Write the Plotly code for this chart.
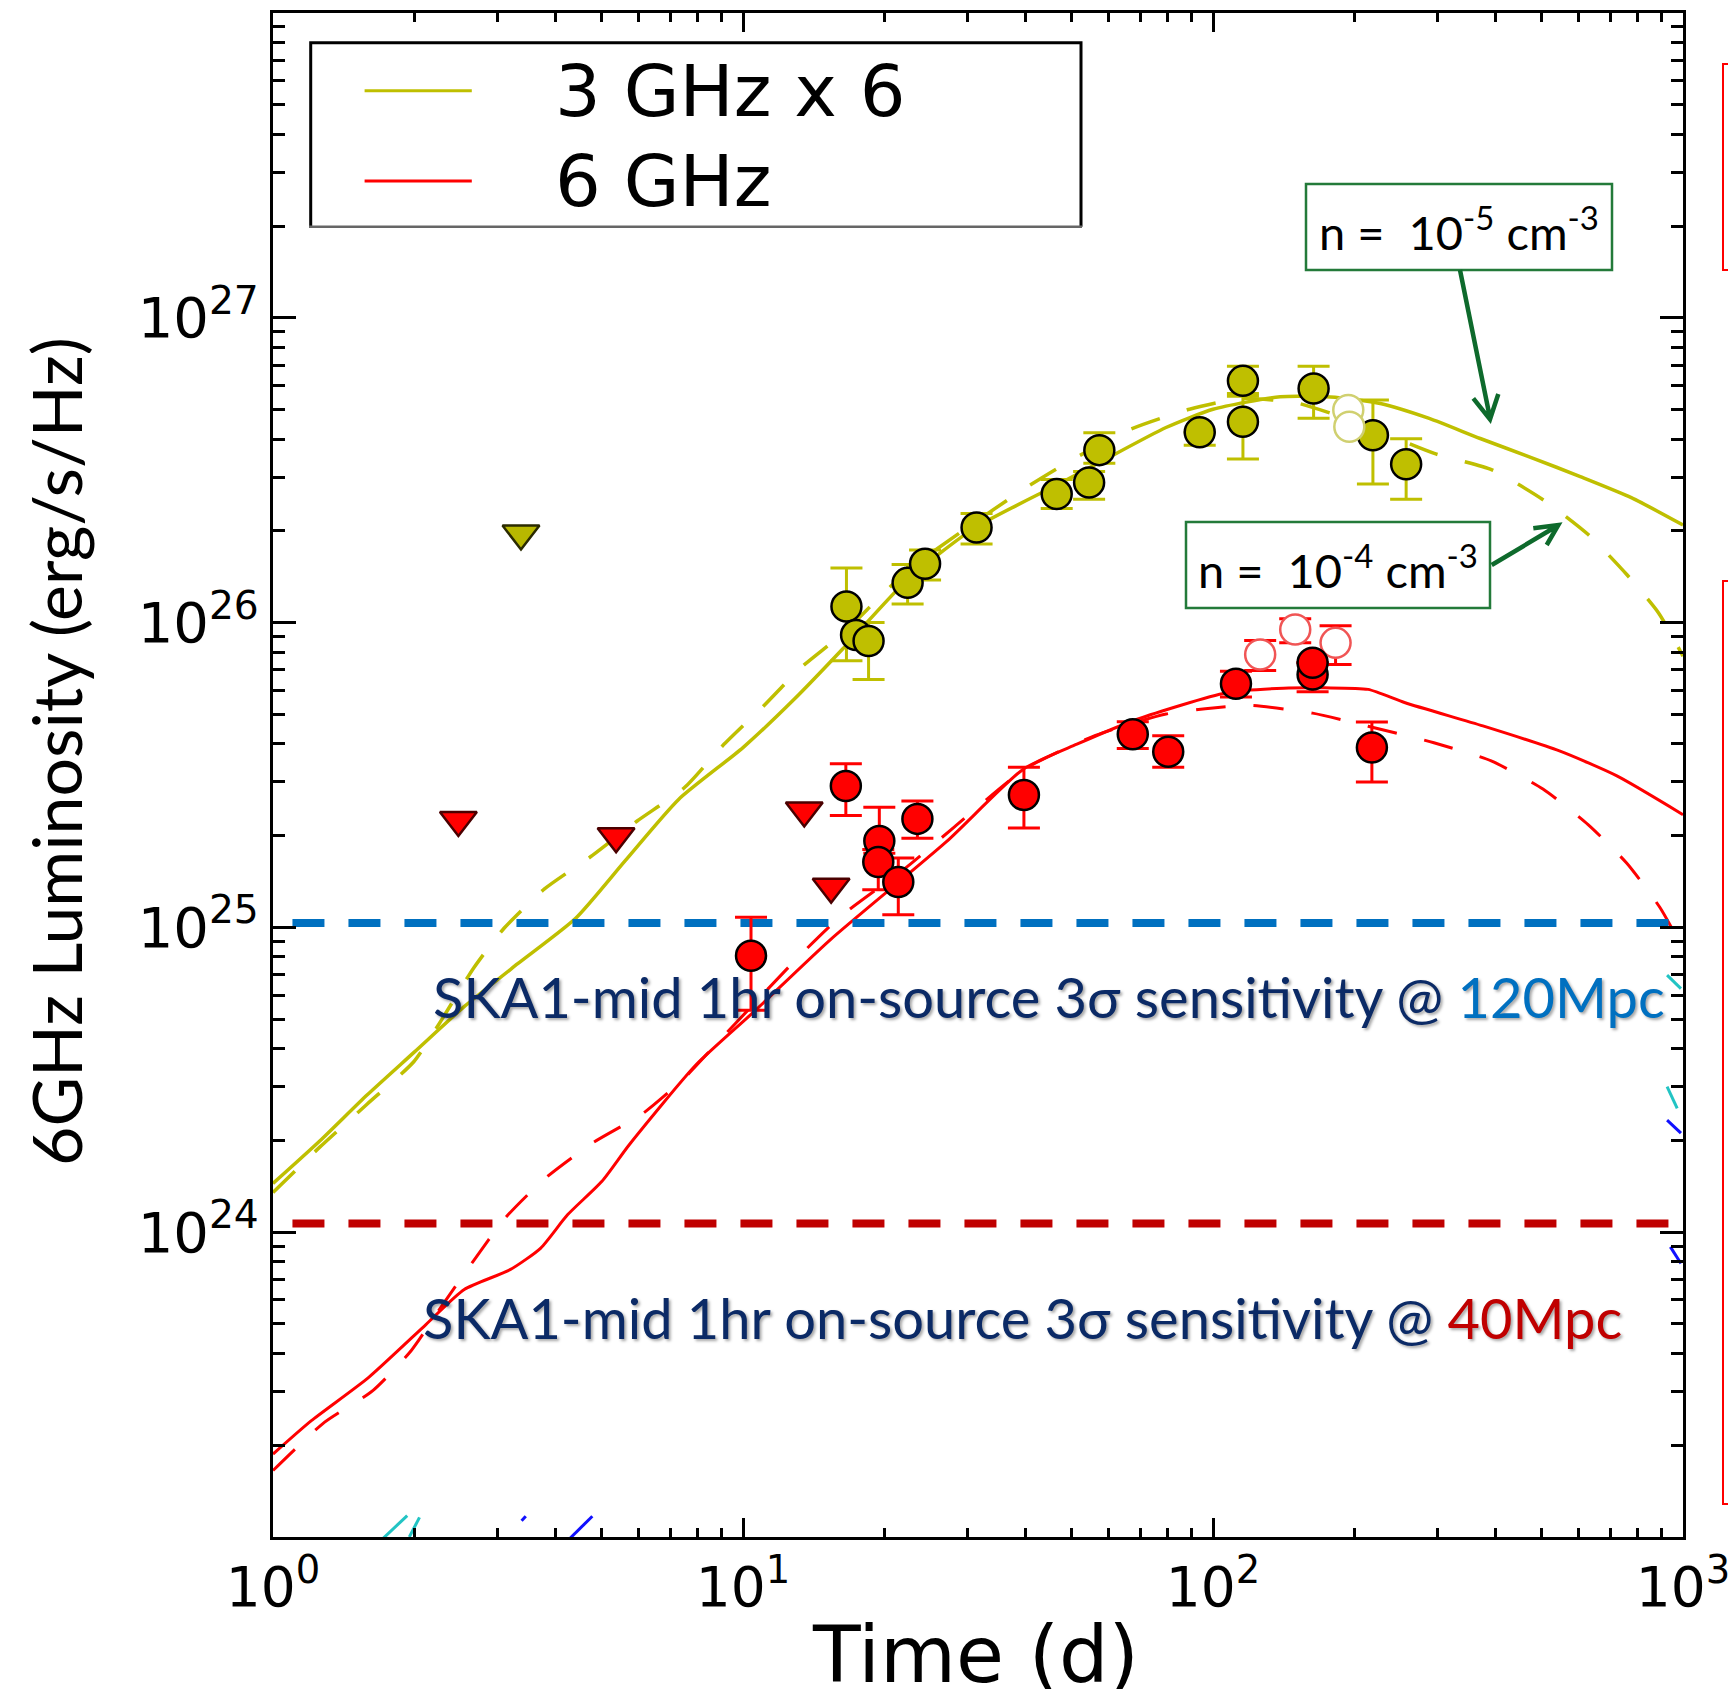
import plotly.graph_objects as go

# ---------------- model light curves ----------------
# 3 GHz (scaled x6), ISM density n = 1e-5 cm^-3 (solid)
t_olive_n5 = [1.0, 1.259, 1.585, 1.995, 2.551, 3.311, 4.406, 5.623, 7.295, 10.0, 12.88, 16.33,
              22.34, 31.05, 46.34, 58.08, 79.43, 100, 139.0, 177.8, 227.0, 288.4, 370.3,
              478.6, 604.5, 776.2, 1000]
L_olive_n5 = [1.445e24, 1.995e24, 2.818e24, 3.89e24, 5.495e24, 7.586e24, 1.072e25, 1.66e25,
              2.63e25, 3.89e25, 5.623e25, 8.222e25, 1.38e26, 2.042e26, 2.818e26, 3.388e26,
              4.365e26, 5.012e26, 5.508e26, 5.495e26, 5.236e26, 4.677e26, 4.018e26, 3.467e26,
              3.013e26, 2.57e26, 2.089e26]

# 3 GHz (scaled x6), n = 1e-4 cm^-3 (dashed)
t_olive_n4 = [1.0, 1.259, 1.585, 1.995, 2.291, 2.673, 3.105, 3.781, 4.782, 5.954, 7.499, 9.051,
              11.02, 13.28, 16.33, 22.39, 39.49, 50.77, 66.73, 89.13, 114.8, 151.4, 199.5,
              295.7, 392.2, 505.1, 629.5, 760.0, 887.2, 1000]
L_olive_n4 = [1.349e24, 1.905e24, 2.63e24, 3.631e24, 5.012e24, 7.362e24, 9.954e24, 1.337e25,
              1.722e25, 2.234e25, 2.871e25, 3.945e25, 5.297e25, 7.112e25, 9.226e25, 1.479e26,
              2.735e26, 3.459e26, 4.305e26, 5.012e26, 5.433e26, 5.248e26, 4.571e26, 3.589e26,
              3.17e26, 2.523e26, 1.941e26, 1.435e26, 1.076e26, 7.762e25]

# 6 GHz, n = 1e-5 cm^-3 (solid)
t_red_n5 = [1.0, 1.205, 1.596, 2.115, 2.552, 3.195, 3.713, 4.233, 5.011, 5.728, 7.954, 10.58,
            15.33, 27.09, 39.54, 51.34, 68.99, 106.8, 141.3, 172.9, 213.8, 256.4, 375.2,
            545.9, 723.3, 1000]
L_red_n5 = [1.871e23, 2.404e23, 3.334e23, 4.977e23, 6.486e23, 7.534e23, 8.872e23, 1.14e24,
            1.469e24, 1.936e24, 3.548e24, 5.309e24, 9.1e24, 1.91e25, 3.311e25, 3.99e25,
            4.819e25, 5.888e25, 6.095e25, 6.109e25, 6.039e25, 5.458e25, 4.581e25, 3.793e25,
            3.141e25, 2.344e25]

# 6 GHz, n = 1e-4 cm^-3 (dashed)
t_red_n4 = [1.0, 1.286, 1.633, 1.969, 2.291, 2.659, 3.117, 3.781, 4.777, 6.116, 7.482, 9.073,
            13.22, 16.18, 22.39, 28.18, 39.81, 56.23, 79.43, 100, 120.6, 162.9, 213.8, 295.1,
            390.8, 503.5, 628.1, 758.6, 892.5, 1000]
L_red_n4 = [1.652e23, 2.377e23, 3.027e23, 4.093e23, 5.754e23, 7.98e23, 1.112e24, 1.496e24,
            1.959e24, 2.449e24, 3.192e24, 4.385e24, 8.091e24, 1.091e25, 1.585e25, 2.138e25,
            3.311e25, 4.266e25, 5.012e25, 5.248e25, 5.346e25, 5.047e25, 4.571e25, 4.036e25,
            3.516e25, 2.844e25, 2.173e25, 1.626e25, 1.164e25, 8.511e24]

# ---------------- observations ----------------
# 3 GHz x 6 detections: time, luminosity, lower / upper error bound
t_olive_obs = [16.6, 17.4, 18.5, 22.4, 24.4, 31.4, 46.5, 54.5, 57.3, 93.7, 115.8, 115.8,
               163.7, 218.9, 257.6]
L_olive_obs = [1.13e26, 9.1e25, 8.7e25, 1.35e26, 1.56e26, 2.05e26, 2.64e26, 2.88e26, 3.68e26,
               4.21e26, 6.21e26, 4.56e26, 5.86e26, 4.12e26, 3.31e26]
lo_olive_obs = [7.5e25, 9.1e25, 6.5e25, 1.15e26, 1.38e26, 1.81e26, 2.37e26, 2.54e26, 3.33e26,
                3.82e26, 5.65e26, 3.44e26, 4.68e26, 2.85e26, 2.54e26]
hi_olive_obs = [1.51e26, 9.1e25, 1.0e26, 1.55e26, 1.73e26, 2.28e26, 2.95e26, 3.13e26, 4.2e26,
                4.21e26, 6.93e26, 5.53e26, 6.93e26, 5.37e26, 4.01e26]
t_olive_open = [194, 195]
L_olive_open = [4.98e26, 4.39e26]
t_olive_lim = [3.37]
L_olive_lim = [1.96e26]

# 6 GHz detections
t_red_obs = [10.4, 16.55, 19.5, 19.4, 21.4, 23.5, 39.6, 67.5, 80.3, 111.9, 162.9, 162.9, 217.8]
L_red_obs = [8.07e24, 2.91e25, 1.92e25, 1.64e25, 1.41e25, 2.27e25, 2.72e25, 4.3e25, 3.77e25,
             6.3e25, 6.76e25, 7.38e25, 3.89e25]
lo_red_obs = [5.35e24, 2.33e25, 1.75e25, 1.33e25, 1.10e25, 1.96e25, 2.12e25, 3.86e25, 3.35e25,
              5.7e25, 5.93e25, 7.38e25, 3.0e25]
hi_red_obs = [1.08e25, 3.44e25, 2.48e25, 1.8e25, 1.69e25, 2.6e25, 3.35e25, 4.73e25, 4.25e25,
              6.93e25, 7.38e25, 7.38e25, 4.72e25]
t_red_open = [126, 149.6, 182.3]
L_red_open = [7.86e25, 9.49e25, 8.58e25]
lo_red_open = [6.97e25, 8.59e25, 7.28e25]
hi_red_open = [8.73e25, 1.03e26, 9.77e25]
t_red_lim = [2.48, 5.37, 13.5, 15.4]
L_red_lim = [2.25e25, 1.99e25, 2.42e25, 1.36e25]

# SKA1-mid 1 hr 3-sigma sensitivity levels
t_sens = [1.10, 939]
L_sens_120 = 1.033e25
L_sens_40 = 1.067e24

# fragments of further model curves entering at the frame edges
t_cyan = [1.70, 1.93, None, 1.95, 2.05, None, 925, 990, None, 925, 972]
L_cyan = [9.77e22, 1.175e23, None, 1.0e23, 1.16e23, None, 6.97e24, 6.3e24, None, 3.006e24, 2.547e24]
t_blue = [3.38, 3.45, None, 4.2, 4.78, None, 925, 990, None, 940, 990]
L_blue = [1.13e23, 1.17e23, None, 9.6e22, 1.17e23, None, 2.333e24, 2.113e24, None, 8.95e23, 7.89e23]

x_major = [1, 10, 100, 1000]
x_major_text = ["10<sup>0</sup>", "10<sup>1</sup>", "10<sup>2</sup>", "10<sup>3</sup>"]
y_major = [1e23, 1e24, 1e25, 1e26, 1e27, 1e28]
y_major_text = ["", "10<sup>24</sup>", "10<sup>25</sup>", "10<sup>26</sup>", "10<sup>27</sup>", ""]
x_minor = [float(m * d) for d in (1, 10, 100) for m in range(2, 10)]
y_minor = [m * 10.0 ** e for e in range(23, 28) for m in range(2, 10)]

OLIVE = "#bfbf00"
RED = "#ff0000"

# ---------------- page geometry ----------------
W, H = 1728, 1689
ML, MR, MT, MB = 273, 45, 13, 152
PW, PH = W - ML - MR, H - MT - MB


def px(x):
    return (x - ML) / PW


def py(y):
    return 1 - (y - MT) / PH


def pt(x, y):
    return f"{px(x):.5f},{py(y):.5f}"


def errs(vals, lo, hi, color):
    return dict(type="data", symmetric=False, visible=True,
                array=[h - v for v, h in zip(vals, hi)],
                arrayminus=[v - l for v, l in zip(vals, lo)],
                color=color, thickness=3, width=16)


def model_line(color, width, dash=None):
    return dict(color=color, width=width, dash=dash, shape="spline", smoothing=0.6)


fig = go.Figure()

# model curves
fig.add_trace(go.Scatter(x=t_olive_n5, y=L_olive_n5, mode="lines",
                         line=model_line(OLIVE, 3.5), showlegend=False))
fig.add_trace(go.Scatter(x=t_olive_n4, y=L_olive_n4, mode="lines",
                         line=model_line(OLIVE, 3.5, "30px,28px"), showlegend=False))
fig.add_trace(go.Scatter(x=t_red_n5, y=L_red_n5, mode="lines",
                         line=model_line(RED, 3), showlegend=False))
fig.add_trace(go.Scatter(x=t_red_n4, y=L_red_n4, mode="lines",
                         line=model_line(RED, 3, "30px,28px"), showlegend=False))
fig.add_trace(go.Scatter(x=t_cyan, y=L_cyan, mode="lines", connectgaps=False,
                         line=dict(color="#22c4c4", width=3), showlegend=False))
fig.add_trace(go.Scatter(x=t_blue, y=L_blue, mode="lines", connectgaps=False,
                         line=dict(color="#1010ff", width=3), showlegend=False))

# sensitivity thresholds
fig.add_trace(go.Scatter(x=t_sens, y=[L_sens_120] * 2, mode="lines",
                         line=dict(color="#0070c0", width=8, dash="32px,24px"), showlegend=False))
fig.add_trace(go.Scatter(x=t_sens, y=[L_sens_40] * 2, mode="lines",
                         line=dict(color="#c00000", width=8, dash="32px,24px"), showlegend=False))

# upper limits
fig.add_trace(go.Scatter(x=t_olive_lim, y=L_olive_lim, mode="markers", showlegend=False,
                         marker=dict(symbol="triangle-down", size=32, color="#b8b800",
                                     line=dict(color="#2a2a00", width=2.5))))
fig.add_trace(go.Scatter(x=t_red_lim, y=L_red_lim, mode="markers", showlegend=False,
                         marker=dict(symbol="triangle-down", size=32, color=RED,
                                     line=dict(color="#4a0000", width=2.5))))

# detections
fig.add_trace(go.Scatter(x=t_olive_obs, y=L_olive_obs, mode="markers", showlegend=False,
                         error_y=errs(L_olive_obs, lo_olive_obs, hi_olive_obs, OLIVE),
                         marker=dict(symbol="circle", size=30, color=OLIVE,
                                     line=dict(color="black", width=2.5))))
fig.add_trace(go.Scatter(x=t_olive_open, y=L_olive_open, mode="markers", showlegend=False,
                         marker=dict(symbol="circle", size=30, color="white",
                                     line=dict(color="#d0d070", width=2.5))))
fig.add_trace(go.Scatter(x=t_red_open, y=L_red_open, mode="markers", showlegend=False,
                         error_y=errs(L_red_open, lo_red_open, hi_red_open, RED),
                         marker=dict(symbol="circle", size=30, color="white",
                                     line=dict(color="#f05555", width=2.5))))
fig.add_trace(go.Scatter(x=t_red_obs, y=L_red_obs, mode="markers", showlegend=False,
                         error_y=errs(L_red_obs, lo_red_obs, hi_red_obs, RED),
                         marker=dict(symbol="circle", size=30, color=RED,
                                     line=dict(color="black", width=2.5))))

axis_common = dict(type="log", showline=True, linecolor="black", linewidth=3, mirror="allticks",
                   ticks="inside", tickcolor="black", tickwidth=3, showgrid=False, zeroline=False,
                   tickmode="array", ticklabeloverflow="allow")

fig.update_xaxes(**axis_common, range=[0, 3], tickvals=x_major, ticktext=x_major_text, ticklen=19,
                 tickfont=dict(family="DejaVu Sans", size=55, color="black"),
                 minor=dict(ticks="inside", ticklen=9, tickwidth=2.5, tickcolor="black",
                            tickmode="array", tickvals=x_minor))
fig.update_yaxes(**axis_common, range=[23, 28], tickvals=y_major, ticktext=y_major_text, ticklen=23,
                 tickfont=dict(family="DejaVu Sans", size=56, color="black"),
                 minor=dict(ticks="inside", ticklen=12, tickwidth=2.5, tickcolor="black",
                            tickmode="array", tickvals=y_minor))

shapes = []
# legend frame and samples
shapes.append(dict(type="path", xref="paper", yref="paper",
                   path=f"M{pt(310.7, 226.7)} L{pt(310.7, 42.7)} L{pt(1081, 42.7)} L{pt(1081, 226.7)}",
                   line=dict(color="black", width=3)))
shapes.append(dict(type="line", xref="paper", yref="paper", x0=px(309), x1=px(1082),
                   y0=py(226.7), y1=py(226.7), line=dict(color="#666666", width=2.5)))
shapes.append(dict(type="line", xref="paper", yref="paper", x0=px(364.6), x1=px(471.8),
                   y0=py(90.7), y1=py(90.7), line=dict(color=OLIVE, width=3)))
shapes.append(dict(type="line", xref="paper", yref="paper", x0=px(364.6), x1=px(471.8),
                   y0=py(181), y1=py(181), line=dict(color=RED, width=3)))

# density label boxes and arrows
GREEN_BOX = "#237a3a"
GREEN_ARROW = "#0e6a2c"
for (x0, y0, x1, y1) in [(1306, 184, 1612, 270), (1186, 522, 1490, 608)]:
    shapes.append(dict(type="rect", xref="paper", yref="paper", x0=px(x0), x1=px(x1),
                       y0=py(y1), y1=py(y0), line=dict(color=GREEN_BOX, width=2.5),
                       fillcolor="white"))
shapes.append(dict(type="path", xref="paper", yref="paper",
                   path=f"M{pt(1460, 270)} L{pt(1490, 418)} M{pt(1473.3, 398.3)} L{pt(1490, 419.3)} L{pt(1498.3, 394)}",
                   line=dict(color=GREEN_ARROW, width=4.5)))
shapes.append(dict(type="path", xref="paper", yref="paper",
                   path=f"M{pt(1491.7, 565)} L{pt(1557, 526)} M{pt(1533.3, 528.3)} L{pt(1558.3, 525)} L{pt(1546.7, 545)}",
                   line=dict(color=GREEN_ARROW, width=4.5)))

# neighbouring panels' frames on the right
for (y0, y1) in [(64, 270), (581, 1504)]:
    shapes.append(dict(type="rect", xref="paper", yref="paper", x0=px(1723), x1=px(1800),
                       y0=py(y1), y1=py(y0), line=dict(color=RED, width=2)))

SHADOW = "2px 2px 3px rgba(0,0,0,0.35)"
annotations = [
    dict(text="3 GHz x 6", x=px(553), y=py(91), xanchor="left", yanchor="middle",
         font=dict(family="DejaVu Sans", size=72, color="black")),
    dict(text="6 GHz", x=px(553), y=py(181), xanchor="left", yanchor="middle",
         font=dict(family="DejaVu Sans", size=72, color="black")),
    dict(text="n =  10<sup>-5</sup> cm<sup>-3</sup>", x=px(1459), y=py(229),
         xanchor="center", yanchor="middle", font=dict(family="Lato", size=47, color="black")),
    dict(text="n =  10<sup>-4</sup> cm<sup>-3</sup>", x=px(1338), y=py(567),
         xanchor="center", yanchor="middle", font=dict(family="Lato", size=47, color="black")),
    dict(text="SKA1-mid 1hr on-source 3σ sensitivity @ <span style='color:#0070c0'>120Mpc</span>",
         x=px(431), y=py(996), xanchor="left", yanchor="middle",
         font=dict(family="Lato", size=56, color="#0b2a66", shadow=SHADOW)),
    dict(text="SKA1-mid 1hr on-source 3σ sensitivity @ <span style='color:#c00000'>40Mpc</span>",
         x=px(421), y=py(1317), xanchor="left", yanchor="middle",
         font=dict(family="Lato", size=56, color="#0b2a66", shadow=SHADOW)),
    dict(text="6GHz Luminosity (erg/s/Hz)", textangle=-90, x=px(55), y=py(752),
         xanchor="center", yanchor="middle", font=dict(family="Lato", size=68, color="black")),
    dict(text="Time (d)", x=px(975), y=py(1655), xanchor="center", yanchor="middle",
         font=dict(family="DejaVu Sans", size=78, color="black")),
]
for a in annotations:
    a.update(xref="paper", yref="paper", showarrow=False)

fig.update_layout(
    width=W, height=H,
    margin=dict(l=ML, r=MR, t=MT, b=MB, autoexpand=False),
    paper_bgcolor="white", plot_bgcolor="white",
    showlegend=False,
    shapes=shapes,
    annotations=annotations,
)

fig.write_html("out.html")
